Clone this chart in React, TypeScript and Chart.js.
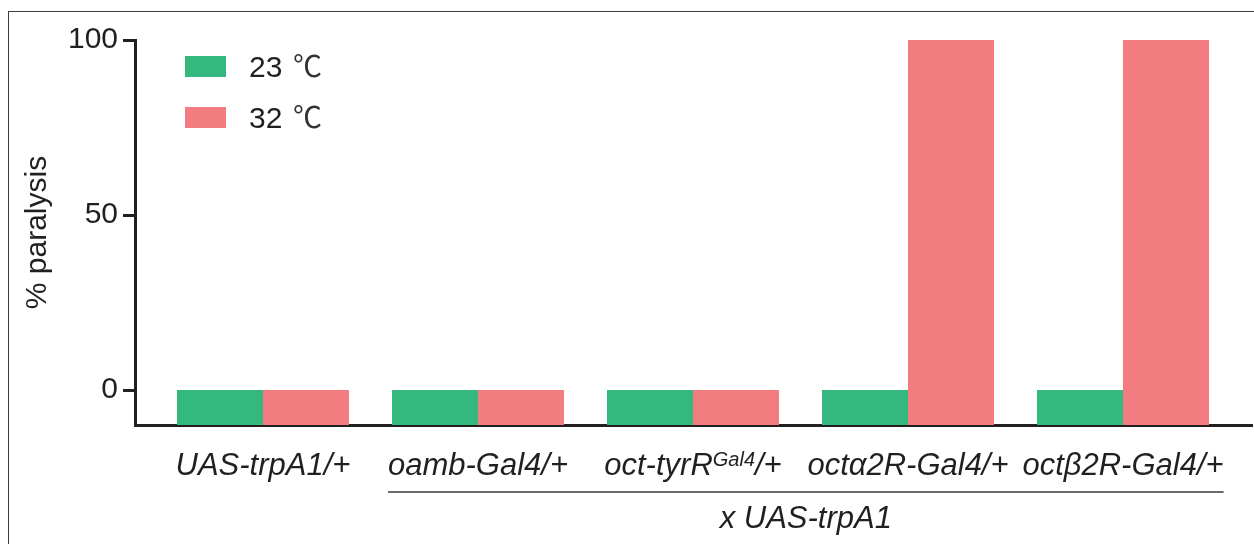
import React, { useEffect, useRef } from "react";
import { Chart, registerables } from "chart.js";

Chart.register(...registerables);

// ---- data ----
const categories = ["UAS-trpA1/+", "oamb-Gal4/+", "oct-tyrR^Gal4^/+", "octα2R-Gal4/+", "octβ2R-Gal4/+"];
const series23 = [0, 0, 0, 0, 0];
const series32 = [0, 0, 0, 100, 100];
const seriesLabels = ["23 ℃", "32 ℃"];
const yTicks = [0, 50, 100];
const groupLabel = "x UAS-trpA1";
const groupFrom = 1;
const groupTo = 4;

const GREEN = "#34B87D";
const RED = "#F37C80";
const INK = "#231f20";
const FONT = "'Liberation Sans', Arial, Helvetica, sans-serif";

const labelPlugin = {
  id: "customLabels",
  afterDraw(chart: any) {
    const ctx = chart.ctx as CanvasRenderingContext2D;
    const xs = chart.scales.x;
    ctx.save();
    ctx.fillStyle = INK;
    ctx.textBaseline = "alphabetic";
    const mainFont = `italic 31px ${FONT}`;
    const supFont = `italic 20px ${FONT}`;
    const baseY = 475;
    const bounds: { l: number; r: number }[] = [];
    categories.forEach((lab, i) => {
      const parts = lab.split("^");
      let total = 0;
      parts.forEach((p, k) => {
        ctx.font = k % 2 === 1 ? supFont : mainFont;
        total += ctx.measureText(p).width;
      });
      const cx = xs.getPixelForValue(i);
      let x = cx - total / 2;
      bounds.push({ l: x, r: x + total });
      ctx.textAlign = "left";
      parts.forEach((p, k) => {
        const sup = k % 2 === 1;
        ctx.font = sup ? supFont : mainFont;
        ctx.fillText(p, x, sup ? baseY - 9 : baseY);
        x += ctx.measureText(p).width;
      });
    });
    // group underline
    const l = bounds[groupFrom].l;
    const r = bounds[groupTo].r;
    ctx.strokeStyle = "#3a3a3a";
    ctx.lineWidth = 1.5;
    ctx.beginPath();
    ctx.moveTo(l, 492);
    ctx.lineTo(r, 492);
    ctx.stroke();
    ctx.font = mainFont;
    ctx.textAlign = "center";
    ctx.fillText(groupLabel, (l + r) / 2, 528);

    // legend
    const colors = [GREEN, RED];
    seriesLabels.forEach((s, i) => {
      const top = 56 + i * 51;
      ctx.fillStyle = colors[i];
      ctx.fillRect(185, top, 41, 21);
      ctx.fillStyle = INK;
      const [num, unit] = s.split(" ");
      ctx.textAlign = "left";
      ctx.font = `30px ${FONT}`;
      ctx.fillText(num, 249, top + 21);
      ctx.font = `29px 'Noto Sans CJK SC', 'DejaVu Sans', sans-serif`;
      ctx.fillStyle = "#333";
      ctx.fillText(unit, 293, top + 21);
    });
    ctx.restore();
  },
};

export default function App() {
  const ref = useRef<HTMLCanvasElement | null>(null);
  useEffect(() => {
    document.body.style.margin = "0";
    const chart = new Chart(ref.current as HTMLCanvasElement, {
      type: "bar",
      data: {
        datasets: [
          {
            label: seriesLabels[0],
            data: series23.map((v, i) => ({ x: i, y: v })),
            backgroundColor: GREEN,
            base: -10,
          } as any,
          {
            label: seriesLabels[1],
            data: series32.map((v, i) => ({ x: i, y: v })),
            backgroundColor: RED,
            base: -10,
          } as any,
        ],
      },
      options: {
        animation: false,
        responsive: true,
        maintainAspectRatio: false,
        devicePixelRatio: 1,
        datasets: { bar: { categoryPercentage: 0.8, barPercentage: 1.0 } },
        layout: { padding: { left: 0, top: 40, right: 2, bottom: 0 } },
        plugins: { legend: { display: false }, tooltip: { enabled: false } },
        scales: {
          x: {
            type: "linear",
            offset: false,
            min: -0.5953,
            max: 4.6,
            z: 1,
            grid: { display: false, offset: false },
            ticks: { display: false },
            border: { display: true, width: 3, color: INK },
            afterBuildTicks: (s: any) => {
              s.ticks = categories.map((_, i) => ({ value: i }));
            },
            afterFit: (s: any) => {
              s.height = 119;
            },
          },
          y: {
            min: -10,
            max: 100,
            grid: {
              display: true,
              drawOnChartArea: false,
              drawTicks: true,
              tickLength: 12,
              lineWidth: 3,
              color: INK,
            },
            border: { display: true, width: 3, color: INK },
            ticks: {
              padding: 5,
              color: INK,
              font: { family: FONT, size: 30 },
            },
            title: {
              display: true,
              text: "% paralysis",
              color: INK,
              font: { family: FONT, size: 30 },
              padding: { top: 20, bottom: 0 },
            },
            afterBuildTicks: (s: any) => {
              s.ticks = yTicks.map((v) => ({ value: v }));
            },
            afterFit: (s: any) => {
              s.width = 135;
            },
          },
        },
      } as any,
      plugins: [labelPlugin],
    });
    return () => chart.destroy();
  }, []);

  return (
    <div style={{ position: "absolute", left: 0, top: 0, width: 1254, height: 544, background: "#fff", overflow: "hidden" }}>
      <div
        style={{
          position: "absolute",
          left: 8,
          top: 11,
          width: 1400,
          height: 800,
          borderLeft: "1.5px solid #3a3a3a",
          borderTop: "1.5px solid #3a3a3a",
        }}
      />
      <div style={{ position: "absolute", left: 0, top: 0, width: 1254, height: 544 }}>
        <canvas ref={ref} />
      </div>
    </div>
  );
}
